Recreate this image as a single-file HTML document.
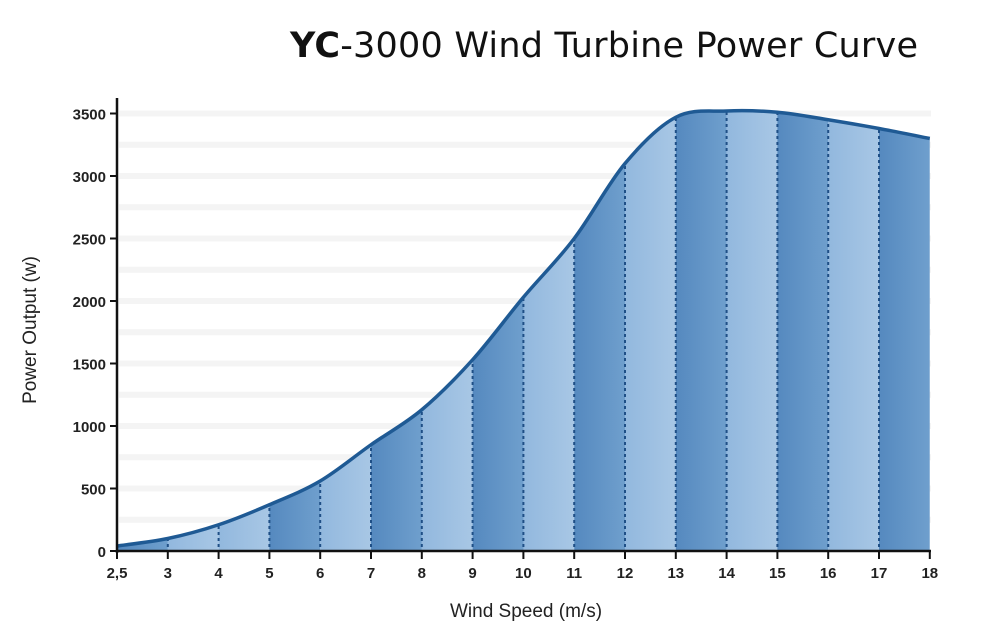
<!DOCTYPE html>
<html><head><meta charset="utf-8"><style>
html,body{margin:0;padding:0;background:#fff;}
svg{display:block;font-family:"Liberation Sans",Arial,sans-serif;}
</style></head><body>
<svg id="c" width="1000" height="636" viewBox="0 0 1000 636" xmlns="http://www.w3.org/2000/svg">
<defs>
<linearGradient id="dk" x1="0" x2="1" y1="0" y2="0"><stop offset="0" stop-color="#5589bf"/><stop offset="1" stop-color="#6f9fcd"/></linearGradient>
<linearGradient id="lt" x1="0" x2="1" y1="0" y2="0"><stop offset="0" stop-color="#92b8de"/><stop offset="1" stop-color="#a8c7e5"/></linearGradient>
</defs>
<text x="290" y="57" font-size="35" fill="#111" textLength="628" font-family="'DejaVu Sans','Liberation Sans',sans-serif"><tspan font-weight="bold">YC</tspan>-3000 Wind Turbine Power Curve</text>
<g id="g"></g>
<text x="526" y="617" font-size="19" text-anchor="middle" fill="#222">Wind Speed (m/s)</text>
<text transform="translate(36,330) rotate(-90)" font-size="19" text-anchor="middle" fill="#222">Power Output (w)</text>
</svg>
<script>
var xs=[2.5,3,4,5,6,7,8,9,10,11,12,13,14,15,16,17,18];
var vs=[40,100,210,370,560,850,1130,1530,2030,2500,3100,3470,3520,3510,3450,3380,3300];
function X(i){return 117+50.8*i;}function Y(v){return 551-v*0.125;}
var P=xs.map(function(_,i){return [X(i),Y(vs[i])];});
var d="M"+P[0][0]+","+P[0][1];
for(var i=0;i<P.length-1;i++){var p0=P[Math.max(0,i-1)],p1=P[i],p2=P[i+1],p3=P[Math.min(P.length-1,i+2)];
d+=" C"+(p1[0]+(p2[0]-p0[0])/6)+","+(p1[1]+(p2[1]-p0[1])/6)+" "+(p2[0]-(p3[0]-p1[0])/6)+","+(p2[1]-(p3[1]-p1[1])/6)+" "+p2[0]+","+p2[1];}
var s="";
for(var v=250;v<=3500;v+=250){s+='<rect x="119" y="'+(Y(v)-3)+'" width="812" height="6" fill="#f4f4f4"/>';}
s+='<clipPath id="cp"><path d="'+d+' L'+X(16)+',551 L'+X(0)+',551Z"/></clipPath><g clip-path="url(#cp)">';
for(var i=0;i<16;i++){var dark=(xs[i]>=5&&xs[i]%2==1)||xs[i]==2.5;
s+='<rect x="'+X(i)+'" y="100" width="50.9" height="452" fill="url(#'+(dark?'dk':'lt')+')"/>';}
for(var i=1;i<16;i++){s+='<line x1="'+X(i)+'" x2="'+X(i)+'" y1="100" y2="551" stroke="#1f4f86" stroke-width="2" stroke-dasharray="3,3"/>';}
s+='</g><path d="'+d+'" fill="none" stroke="#1f5a94" stroke-width="3.5"/>';
s+='<line x1="117" y1="98" x2="117" y2="553" stroke="#111" stroke-width="2.5"/><line x1="116" y1="551" x2="931" y2="551" stroke="#111" stroke-width="2.5"/>';
for(var v=0;v<=3500;v+=500){s+='<line x1="110" x2="117" y1="'+Y(v)+'" y2="'+Y(v)+'" stroke="#111" stroke-width="2"/><text x="106" y="'+(Y(v)+6)+'" font-size="15" font-weight="bold" text-anchor="end" fill="#222">'+v+'</text>';}
for(var i=0;i<17;i++){s+='<line x1="'+X(i)+'" x2="'+X(i)+'" y1="551" y2="559" stroke="#111" stroke-width="2"/><text x="'+X(i)+'" y="578" font-size="15" font-weight="bold" text-anchor="middle" fill="#222">'+String(xs[i]).replace('.',',')+'</text>';}
document.getElementById('g').innerHTML=s;
</script>
</body></html>
